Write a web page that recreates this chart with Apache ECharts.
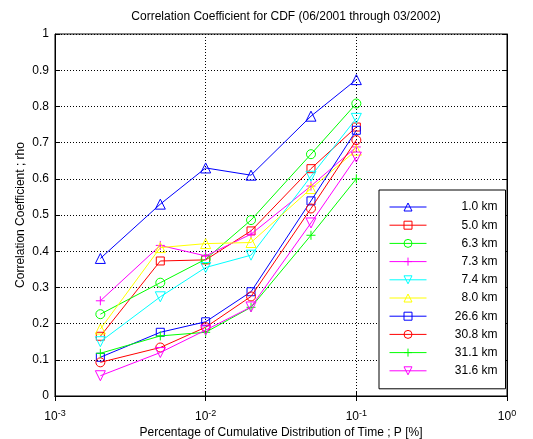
<!DOCTYPE html>
<html>
<head>
<meta charset="utf-8">
<script src="https://cdn.jsdelivr.net/npm/echarts@6/dist/echarts.min.js"></script>
<style>
  html, body { margin: 0; padding: 0; background: #fff; }
</style>
</head>
<body>
<div id="rhoChart" style="width: 533px; height: 439px;"></div>
<script>
// percentage of time (x, log scale)
const pctTime = [0.002, 0.005, 0.01, 0.02, 0.05, 0.1]
const yTicks = [0, 0.1, 0.2, 0.3, 0.4, 0.5, 0.6, 0.7, 0.8, 0.9, 1]

const pathNames = ['1.0 km', '5.0 km', '6.3 km', '7.3 km', '7.4 km', '8.0 km', '26.6 km', '30.8 km', '31.1 km', '31.6 km']
const rho_1_0 = [0.38, 0.53, 0.63, 0.61, 0.773, 0.874]
const rho_5_0 = [0.165, 0.373, 0.376, 0.456, 0.628, 0.743]
const rho_6_3 = [0.226, 0.313, 0.378, 0.486, 0.668, 0.808]
const rho_7_3 = [0.263, 0.416, 0.387, 0.447, 0.58, 0.688]
const rho_7_4 = [0.15, 0.274, 0.355, 0.389, 0.607, 0.767]
const rho_8_0 = [0.185, 0.41, 0.421, 0.424, 0.573, 0.679]
const rho_26_6 = [0.107, 0.176, 0.205, 0.288, 0.539, 0.734]
const rho_30_8 = [0.093, 0.134, 0.19, 0.275, 0.518, 0.707]
const rho_31_1 = [0.118, 0.166, 0.176, 0.245, 0.444, 0.60]
const rho_31_6 = [0.056, 0.12, 0.182, 0.246, 0.478, 0.66]
const allRho = [rho_1_0, rho_5_0, rho_6_3, rho_7_3, rho_7_4, rho_8_0, rho_26_6, rho_30_8, rho_31_1, rho_31_6]

const lineColors = ['#0000ff', '#ff0000', '#00ff00', '#ff00ff', '#00ffff', '#ffff00', '#0000ff', '#ff0000', '#00ff00', '#ff00ff']
const plusPath = 'path://M0,-5L0,5M-5,0L5,0'
const markers = [
  { symbol: 'triangle', rotate: 0, size: 10 },
  { symbol: 'rect', rotate: 0, size: 8 },
  { symbol: 'circle', rotate: 0, size: 9 },
  { symbol: plusPath, rotate: 0, size: 9 },
  { symbol: 'triangle', rotate: 180, size: 10 },
  { symbol: 'triangle', rotate: 0, size: 10 },
  { symbol: 'rect', rotate: 0, size: 8 },
  { symbol: 'circle', rotate: 0, size: 9 },
  { symbol: plusPath, rotate: 0, size: 9 },
  { symbol: 'triangle', rotate: 180, size: 10 }
]

const font = 'Liberation Sans, Arial, sans-serif'

const chart = echarts.init(document.getElementById('rhoChart'), null, { renderer: 'canvas' })

const seriesList = pathNames.map((name, i) => ({
  name: name,
  type: 'line',
  xAxisIndex: 0,
  yAxisIndex: 0,
  data: pctTime.map((x, j) => [x, allRho[i][j]]),
  symbol: markers[i].symbol,
  symbolSize: markers[i].size,
  symbolRotate: markers[i].rotate,
  showAllSymbol: true,
  lineStyle: { color: lineColors[i], width: 1 },
  itemStyle: { color: 'rgba(0,0,0,0)', borderColor: lineColors[i], borderWidth: 1 },
  emphasis: { disabled: true },
  z: 2 + i
}))

const gridDots = { show: true, lineStyle: { color: '#000', width: 1, type: [1, 2] } }

chart.setOption({
  animation: false,
  title: {
    text: 'Correlation Coefficient for CDF (06/2001 through 03/2002)',
    left: 281,
    textAlign: 'center',
    top: 6,
    textStyle: { fontFamily: font, fontSize: 12, fontWeight: 'normal', color: '#000' }
  },
  grid: {
    left: 55, right: 26, top: 34, bottom: 43,
    outerBoundsMode: 'none',
    show: true, borderColor: '#000', borderWidth: 1, backgroundColor: '#fff'
  },
  legend: {
    orient: 'vertical',
    left: 379,
    top: 190,
    backgroundColor: '#fff',
    borderColor: '#000',
    borderWidth: 1,
    padding: [9, 8, 10, 10],
    itemWidth: 37,
    itemHeight: 10,
    itemGap: 2.2,
    selectedMode: false,
    data: pathNames,
    lineStyle: { width: 1 },
    itemStyle: { borderWidth: 1 },
    formatter: name => '{n|' + name + '}',
    textStyle: {
      fontFamily: font,
      fontSize: 12,
      color: '#000',
      rich: { n: { width: 66, align: 'right', fontFamily: font, fontSize: 12, color: '#000', lineHeight: 14, padding: [2, 0, 2, 0] } }
    }
  },
  xAxis: [{
    type: 'log',
    logBase: 10,
    min: 0.001,
    max: 1,
    position: 'bottom',
    name: 'Percentage of Cumulative Distribution of Time ; P [%]',
    nameLocation: 'middle',
    nameGap: 31,
    nameMoveOverlap: false,
    nameTextStyle: { fontFamily: font, fontSize: 12, color: '#000' },
    axisLine: { show: true, lineStyle: { color: '#000' } },
    axisTick: { show: true, inside: true, length: 5, lineStyle: { color: '#000' } },
    minorTick: { show: false },
    splitLine: gridDots,
    axisLabel: {
      margin: 13,
      formatter: v => '{b|10}{e|' + Math.round(Math.log10(v)) + '}',
      rich: {
        b: { fontFamily: font, fontSize: 12, color: '#000' },
        e: { fontFamily: font, fontSize: 9, color: '#000', verticalAlign: 'bottom', padding: [0, 0, 7, 0] }
      }
    }
  }, {
    type: 'log',
    logBase: 10,
    min: 0.001,
    max: 1,
    position: 'top',
    axisLine: { show: true, lineStyle: { color: '#000' } },
    axisTick: { show: true, inside: true, length: 5, lineStyle: { color: '#000' } },
    axisLabel: { show: false },
    splitLine: { show: false }
  }],
  yAxis: [{
    type: 'value',
    min: yTicks[0],
    max: yTicks[yTicks.length - 1],
    interval: 0.1,
    position: 'left',
    name: 'Correlation Coefficient ; rho',
    nameLocation: 'middle',
    nameGap: 28,
    nameMoveOverlap: false,
    nameTextStyle: { fontFamily: font, fontSize: 12, color: '#000' },
    axisLine: { show: true, lineStyle: { color: '#000' } },
    axisTick: { show: true, inside: true, length: 5, lineStyle: { color: '#000' } },
    splitLine: gridDots,
    axisLabel: {
      margin: 6,
      fontFamily: font,
      fontSize: 12,
      color: '#000',
      formatter: v => String(Math.round(v * 10) / 10)
    }
  }, {
    type: 'value',
    min: yTicks[0],
    max: yTicks[yTicks.length - 1],
    interval: 0.1,
    position: 'right',
    axisLine: { show: true, lineStyle: { color: '#000' } },
    axisTick: { show: true, inside: true, length: 5, lineStyle: { color: '#000' } },
    axisLabel: { show: false },
    splitLine: { show: false }
  }],
  series: seriesList
})
</script>
</body>
</html>
